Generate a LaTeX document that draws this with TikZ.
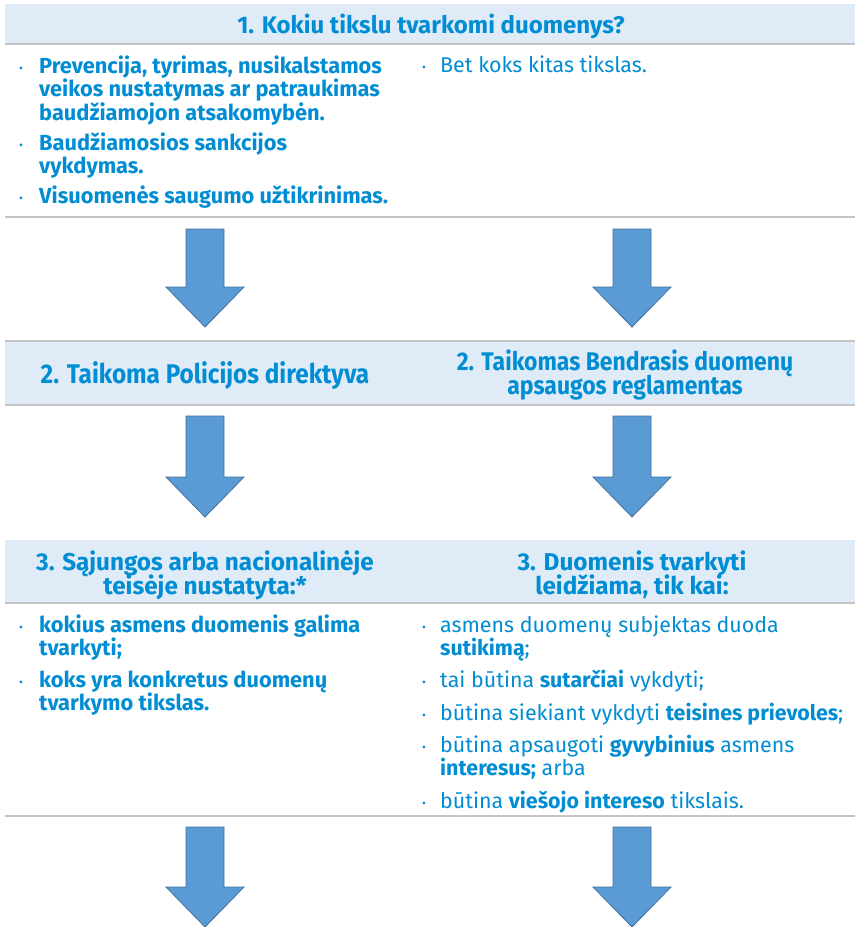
\documentclass[tikz,border=0pt]{standalone}
\usepackage{fontspec}
\usepackage{graphicx}
\setmainfont{Fira Sans}
\definecolor{txtblue}{RGB}{0,141,212}
\definecolor{bandfill}{RGB}{223,235,247}
\definecolor{sepgray}{RGB}{196,196,196}
\definecolor{arrfill}{RGB}{91,155,213}
\definecolor{arrdraw}{RGB}{65,113,156}
\tikzset{
  band/.style={fill=bandfill},
  sepline/.style={draw=sepgray, line width=1.6pt},
  hdr/.style={text=txtblue, font=\bfseries\fontsize{24}{24}\selectfont, align=center, inner sep=0pt},
  hdrthree/.style={text=txtblue, font=\bfseries\fontsize{24.3}{24}\selectfont, align=center, inner sep=0pt},
  hdrtwo/.style={text=txtblue, font=\bfseries\fontsize{27}{24}\selectfont, align=center, inner sep=0pt},
  hdrtwor/.style={text=txtblue, font=\bfseries\fontsize{25.5}{24}\selectfont, align=center, inner sep=0pt},
  itemb/.style={text=txtblue, font=\bfseries\fontsize{21.8}{23.5}\selectfont, anchor=base west, inner sep=0pt},
  itemr/.style={text=txtblue, font=\fontsize{21.4}{23.5}\selectfont, anchor=base west, inner sep=0pt},
  bul/.style={text=txtblue, font=\fontsize{12}{12}\selectfont, anchor=base, inner sep=0pt},
  blockarrow/.style={fill=arrfill, draw=arrdraw, line width=0.8pt, line join=miter}
}
\begin{document}
\begin{tikzpicture}[x=1pt,y=-1pt]
\useasboundingbox (0,0) rectangle (855,927);
\fill[white] (0,0) rectangle (855,927);
% bands
\fill[band] (5,4) rectangle (855,44);
\draw[sepline] (5,44) -- (855,44);
\draw[sepline] (5,217) -- (855,217);
\fill[band] (5,341) rectangle (855,405);
\draw[sepline] (5,341) -- (855,341);
\draw[sepline] (5,405) -- (855,405);
\fill[band] (5,540) rectangle (855,603);
\draw[sepline] (5,603) -- (855,603);
\draw[sepline] (5,816) -- (855,816);
% headers
\node[hdr, anchor=base] (h1) at (431,33) {1. Kokiu tikslu tvarkomi duomenys?};
\node[hdrtwo, anchor=base] (h2l) at (205,383) {\scalebox{0.9}[1]{2. Taikoma Policijos direktyva}};
\node[hdrtwor, anchor=base] (h2r) at (625,370) {\scalebox{0.9}[1]{2. Taikomas Bendrasis duomenų}};
\node[hdrtwor, anchor=base] (h2r2) at (625,394) {\scalebox{0.9}[1]{apsaugos reglamentas}};
\node[hdrthree, anchor=base] (h3l) at (205,570) {3. Sąjungos arba nacionalinėje};
\node[hdrthree, anchor=base] (h3l2) at (205,594) {teisėje nustatyta:*};
\node[hdrthree, anchor=base] (h3r) at (632,570) {3. Duomenis tvarkyti};
\node[hdrthree, anchor=base] (h3r2) at (632,594) {leidžiama, tik kai:};
% section 1 bullets
\node[bul] (b1) at (21,72) {•};
\node[itemb] (t1) at (39,73) {\parbox[t]{380pt}{\raggedright Prevencija, tyrimas, nusikalstamos\\veikos nustatymas ar patraukimas\\baudžiamojon atsakomybėn.}};
\node[bul] (b2) at (21,149) {•};
\node[itemb] (t2) at (39,150) {\parbox[t]{380pt}{\raggedright Baudžiamosios sankcijos\\vykdymas.}};
\node[bul] (b3) at (21,202) {•};
\node[itemb] (t3) at (39,203) {Visuomenės saugumo užtikrinimas.};
\node[bul] (b4) at (424,71) {•};
\node[itemr] (t4) at (440,72) {Bet koks kitas tikslas.};
% section 3 left bullets
\node[bul] (b5) at (21,631) {•};
\node[itemb] (t5) at (39,632) {\parbox[t]{380pt}{\raggedright kokius asmens duomenis galima\\tvarkyti;}};
\node[bul] (b6) at (21,686) {•};
\node[itemb] (t6) at (39,687) {\parbox[t]{380pt}{\raggedright koks yra konkretus duomenų\\tvarkymo tikslas.}};
% section 3 right bullets
\node[bul] (b7) at (424,631) {•};
\node[itemr] (t7) at (440,632) {\parbox[t]{410pt}{\raggedright\baselineskip=23pt asmens duomenų subjektas duoda\\\textbf{sutikimą};}};
\node[bul] (b8) at (424,686) {•};
\node[itemr] (t8) at (440,687) {tai būtina \textbf{sutarčiai} vykdyti;};
\node[bul] (b9) at (424,719) {•};
\node[itemr] (t9) at (440,720) {būtina siekiant vykdyti \textbf{teisines prievoles};};
\node[bul] (b10) at (424,751) {•};
\node[itemr] (t10) at (440,752) {\parbox[t]{410pt}{\raggedright\baselineskip=21.5pt būtina apsaugoti \textbf{gyvybinius} asmens\\\textbf{interesus;} arba}};
\node[bul] (b11) at (424,807) {•};
\node[itemr] (t11) at (440,808) {būtina \textbf{viešojo intereso} tikslais.};
% block arrows
\foreach \cx/\top/\mid/\tip in {205/229/287/327, 632/229/287/327, 205/416/477/517, 632/416/477/517, 205/827/887/927, 632/827/887/927}{
  \draw[blockarrow] (\cx-19,\top) -- (\cx+19,\top) -- (\cx+19,\mid) -- (\cx+39,\mid) -- (\cx,\tip) -- (\cx-39,\mid) -- (\cx-19,\mid) -- cycle;
}
\end{tikzpicture}
\end{document}
